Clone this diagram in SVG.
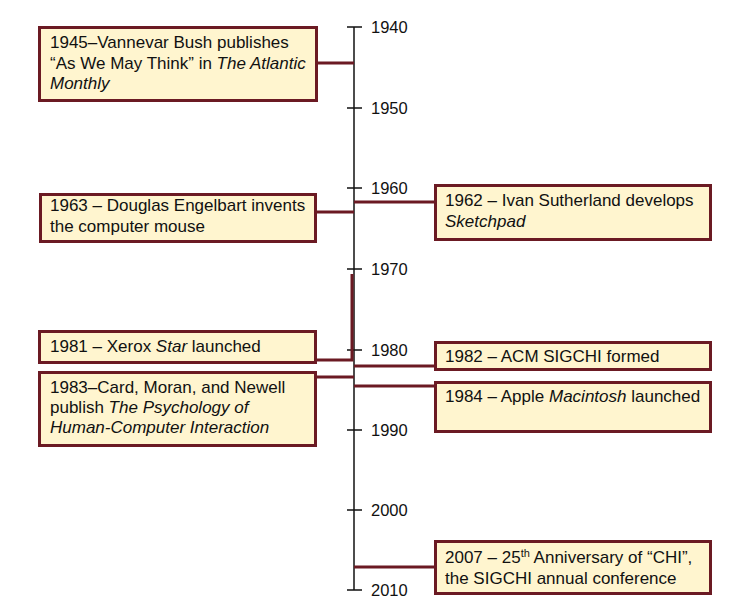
<svg xmlns="http://www.w3.org/2000/svg" width="753" height="600" viewBox="0 0 753 600">
<style>
.box{fill:#fff5cf;stroke:#6b1a23;stroke-width:3}
.t{font-family:"Liberation Sans",Arial,sans-serif;font-size:17px;fill:#111}
.i{font-style:italic}
.yr{font-family:"Liberation Sans",Arial,sans-serif;font-size:16.5px;fill:#111}
.conn{fill:none;stroke:#6b1a23;stroke-width:3}
.axis{stroke:#111;stroke-width:1.5;fill:none}
</style>
<rect width="753" height="600" fill="#fff"/>
<g id="axis">
<line class="axis" x1="354" y1="27" x2="354" y2="590"/>
<path class="axis" d="M347,27H362M347,108H362M347,188H362M347,269H362M347,350H362M347,430H362M347,510H362M347,590H362"/>
<text class="yr" x="371" y="33">1940</text>
<text class="yr" x="371" y="114">1950</text>
<text class="yr" x="371" y="194">1960</text>
<text class="yr" x="371" y="275">1970</text>
<text class="yr" x="371" y="356">1980</text>
<text class="yr" x="371" y="436">1990</text>
<text class="yr" x="371" y="516">2000</text>
<text class="yr" x="371" y="596">2010</text>
</g>
<g id="connectors">
<path class="conn" d="M318,63H354"/>
<path class="conn" d="M317,212H354"/>
<path class="conn" d="M354,202H434"/>
<path class="conn" d="M317,360H352V274"/>
<path class="conn" d="M317,377H354"/>
<path class="conn" d="M354,366H434"/>
<path class="conn" d="M354,386H434"/>
<path class="conn" d="M354,567H434"/>
</g>
<g id="n1945">
<rect class="box" x="39.5" y="27.5" width="277" height="73"/>
<text class="t" x="50" y="48">1945–Vannevar Bush publishes</text>
<text class="t" x="50" y="69">“As We May Think” in <tspan class="i">The Atlantic</tspan></text>
<text class="t i" x="50" y="89">Monthly</text>
</g>
<g id="n1963">
<rect class="box" x="40.5" y="194.5" width="275" height="47"/>
<text class="t" x="50" y="211">1963 – Douglas Engelbart invents</text>
<text class="t" x="50" y="232">the computer mouse</text>
</g>
<g id="n1962">
<rect class="box" x="435.5" y="185.5" width="275" height="54"/>
<text class="t" x="445" y="206">1962 – Ivan Sutherland develops</text>
<text class="t i" x="445" y="227">Sketchpad</text>
</g>
<g id="n1981">
<rect class="box" x="39.5" y="331.5" width="276" height="31"/>
<text class="t" x="50" y="352">1981 – Xerox <tspan class="i">Star</tspan> launched</text>
</g>
<g id="n1983">
<rect class="box" x="39.5" y="372.5" width="276" height="73"/>
<text class="t" x="50" y="393">1983–Card, Moran, and Newell</text>
<text class="t" x="50" y="413">publish <tspan class="i">The Psychology of</tspan></text>
<text class="t i" x="50" y="433">Human-Computer Interaction</text>
</g>
<g id="n1982">
<rect class="box" x="435.5" y="342.5" width="275" height="27"/>
<text class="t" x="445" y="362">1982 – ACM SIGCHI formed</text>
</g>
<g id="n1984">
<rect class="box" x="435.5" y="382.5" width="275" height="49"/>
<text class="t" x="445" y="402">1984 – Apple <tspan class="i">Macintosh</tspan> launched</text>
</g>
<g id="n2007">
<rect class="box" x="435.5" y="541.5" width="275" height="52"/>
<text class="t" x="445" y="563">2007 – 25<tspan font-size="11" dy="-6">th</tspan><tspan dy="6"> Anniversary of “CHI”,</tspan></text>
<text class="t" x="445" y="584">the SIGCHI annual conference</text>
</g>
</svg>
